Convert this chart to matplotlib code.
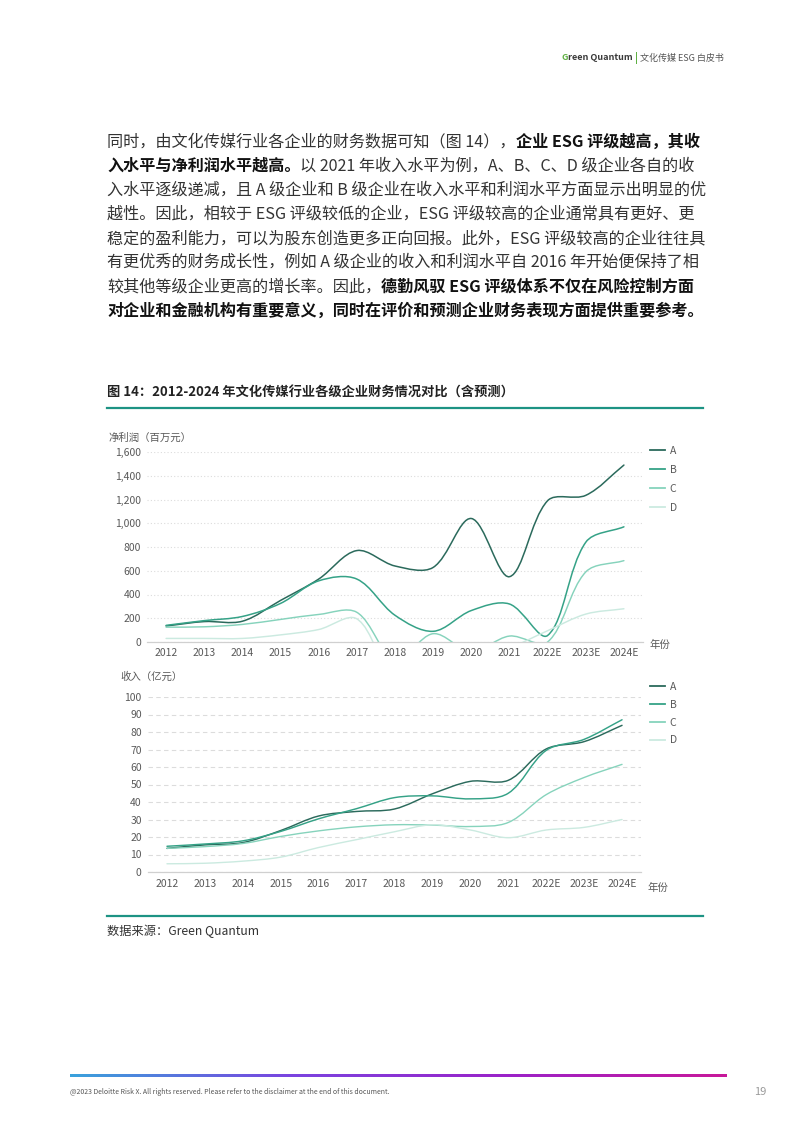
import numpy as np
import matplotlib
matplotlib.use("Agg")
import matplotlib.pyplot as plt
from matplotlib.path import Path
from matplotlib.patches import PathPatch
from matplotlib.lines import Line2D
from matplotlib.ticker import FuncFormatter
from matplotlib.colors import LinearSegmentedColormap

plt.rcParams['font.family'] = ['Noto Sans CJK SC', 'DejaVu Sans']

# ---------------- data ----------------
years = ['2012', '2013', '2014', '2015', '2016', '2017', '2018', '2019', '2020',
         '2021', '2022E', '2023E', '2024E']
series_names = ['A', 'B', 'C', 'D']

profit_A = [135, 172, 175, 350, 530, 770, 640, 628, 1040, 550, 1190, 1235, 1490]
profit_B = [140, 180, 215, 325, 515, 530, 225, 90, 265, 320, 55, 840, 970]
profit_C = [125, 128, 148, 190, 232, 250, -150, 70, -80, 50, 0, 590, 685]
profit_D = [30, 30, 30, 60, 105, 195, -300, -200, -150, -50, 95, 235, 280]

revenue_A = [13.5, 15.5, 16.8, 23.7, 32.0, 34.6, 36.0, 44.7, 51.8, 52.4, 70.3, 74.5, 83.8]
revenue_B = [14.7, 16.0, 17.8, 23.2, 30.4, 36.2, 42.5, 43.5, 41.8, 45.0, 69.5, 75.8, 87.0]
revenue_C = [13.5, 14.5, 16.3, 20.3, 23.5, 25.8, 27.0, 26.8, 26.0, 28.3, 44.2, 54.0, 61.5]
revenue_D = [4.7, 5.0, 6.2, 8.5, 14.0, 18.5, 23.0, 27.0, 24.0, 19.6, 24.0, 25.5, 30.0]

profit_ticks = [0, 200, 400, 600, 800, 1000, 1200, 1400, 1600]
revenue_ticks = [0, 10, 20, 30, 40, 50, 60, 70, 80, 90, 100]

colors = ['#2b6a5c', '#35a287', '#86d3bc', '#cbeae0']

W, H = 793, 1122
fig = plt.figure(figsize=(W / 100, H / 100), dpi=100)
fig.patch.set_facecolor('white')
renderer = fig.canvas.get_renderer()


def fx(px):
    return px / W


def fy(py):
    return 1 - py / H


def draw_runs(x_px, y_px, runs):
    x = x_px
    for text, kw in runs:
        t = fig.text(fx(x), fy(y_px), text, ha='left', va='center', **kw)
        bb = t.get_window_extent(renderer)
        x += bb.width
    return x


def smooth_path(xs, ys, sx, sy):
    """Office-style smoothed line (Bezier segments), computed in screen proportions."""
    pts = np.column_stack([np.asarray(xs, float) * sx, np.asarray(ys, float) * sy])
    n = len(pts)
    f = 1.0 / 6.0
    verts = [pts[0]]
    codes = [Path.MOVETO]

    def ctrl(pm, p, pp, toward_next):
        d0 = np.hypot(*(p - pm))
        d1 = np.hypot(*(pp - p))
        if d0 + d1 == 0:
            return p.copy()
        scale = 2 * (d1 if toward_next else d0) / (d0 + d1)
        v = (pp - pm) * f * scale
        return p + v if toward_next else p - v

    for i in range(n - 1):
        p1, p2 = pts[i], pts[i + 1]
        p0 = pts[i - 1] if i > 0 else pts[i]
        p3 = pts[i + 2] if i + 2 < n else pts[i + 1]
        c1 = ctrl(p0, p1, p2, True)
        c2 = ctrl(p1, p2, p3, False)
        verts += [c1, c2, p2]
        codes += [Path.CURVE4] * 3
    verts = np.array(verts)
    verts[:, 0] /= sx
    verts[:, 1] /= sy
    return Path(verts, codes)


TICK_C = '#595959'
GRID_C = '#dcdcdc'


def style_axes(ax, ticks, fmt, grid_ls, xpad):
    ax.set_xlim(-0.5, len(years) - 0.5)
    ax.set_ylim(ticks[0], ticks[-1])
    ax.set_xticks(range(len(years)))
    ax.set_xticklabels(years)
    ax.set_yticks(ticks)
    ax.yaxis.set_major_formatter(FuncFormatter(fmt))
    for s in ['top', 'right', 'left']:
        ax.spines[s].set_visible(False)
    ax.spines['bottom'].set_color('#d0d0d0')
    ax.spines['bottom'].set_linewidth(0.9)
    ax.yaxis.grid(True, linestyle=grid_ls, color=GRID_C, linewidth=0.8)
    ax.set_axisbelow(True)
    ax.tick_params(axis='both', length=0, labelsize=7.5, labelcolor=TICK_C)
    ax.tick_params(axis='x', pad=xpad)
    ax.tick_params(axis='y', pad=4.5)
    ax.set_facecolor('none')


def draw_series(ax, data, lws, w_px, h_px, yrange):
    sx = w_px / len(years)
    sy = h_px / yrange
    for vals, c, lw in zip(data, colors, lws):
        p = PathPatch(smooth_path(np.arange(len(years)), vals, sx, sy), facecolor='none',
                      edgecolor=c, linewidth=lw, capstyle='round', joinstyle='round')
        ax.add_patch(p)


def add_legend(ax, anchor, spacing):
    handles = [Line2D([0], [0], color=c, lw=1.3) for c in colors]
    leg = ax.legend(handles, series_names, loc='upper left', bbox_to_anchor=anchor,
                    frameon=False, fontsize=7.5, handlelength=1.45, handletextpad=0.45,
                    labelspacing=spacing, borderpad=0, borderaxespad=0)
    for t in leg.get_texts():
        t.set_color(TICK_C)


# ---------------- top chart: net profit ----------------
ax1 = fig.add_axes([fx(147), fy(642), fx(643) - fx(147), (642 - 452) / H])
style_axes(ax1, profit_ticks, lambda v, p: f'{int(v):,}', (0, (1, 2)), 4)
draw_series(ax1, [profit_A, profit_B, profit_C, profit_D], [1.1, 1.1, 1.05, 1.05],
            496, 190, 1600)
add_legend(ax1, ((650 - 147) / 496, (642 - 446) / 190), 0.85)
fig.text(fx(108), fy(438), '净利润（百万元）', ha='left', va='center', fontsize=7.5, color=TICK_C)
fig.text(fx(650), fy(645), '年份', ha='left', va='center', fontsize=7.5, color=TICK_C)

# ---------------- bottom chart: revenue ----------------
ax2 = fig.add_axes([fx(148), fy(872), fx(641) - fx(148), (872 - 697) / H])
style_axes(ax2, revenue_ticks, lambda v, p: f'{int(v)}', (0, (4, 3)), 5)
draw_series(ax2, [revenue_A, revenue_B, revenue_C, revenue_D], [1.05, 1.05, 1.0, 1.0],
            493, 175, 100)
add_legend(ax2, ((650 - 148) / 493, (872 - 682) / 175), 0.75)
fig.text(fx(120), fy(677), '收入（亿元）', ha='left', va='center', fontsize=7.5, color=TICK_C)
fig.text(fx(647), fy(888), '年份', ha='left', va='center', fontsize=7.5, color=TICK_C)

# ---------------- header ----------------
hdr_kw = dict(fontsize=6.5, color='#555555')
draw_runs(562, 58, [('G', dict(fontsize=6.5, color='#5fb043', fontweight='bold')),
                    ('reen Quantum', dict(fontsize=6.5, color='#3a3a3a', fontweight='bold')),
                    (' ', hdr_kw),
                    ('|', dict(fontsize=7.2, color='#5fb043', fontweight='bold')),
                    (' 文化传媒 ESG 白皮书', hdr_kw)])

# ---------------- body text ----------------
NORM = dict(fontsize=11.6, color='#333333')
BOLD = dict(fontsize=11.6, color='#111111', fontweight='bold')
body_lines = [
    [('同时，由文化传媒行业各企业的财务数据可知（图 14），', NORM), ('企业 ESG 评级越高，其收', BOLD)],
    [('入水平与净利润水平越高。', BOLD), ('以 2021 年收入水平为例，A、B、C、D 级企业各自的收', NORM)],
    [('入水平逐级递减，且 A 级企业和 B 级企业在收入水平和利润水平方面显示出明显的优', NORM)],
    [('越性。因此，相较于 ESG 评级较低的企业，ESG 评级较高的企业通常具有更好、更', NORM)],
    [('稳定的盈利能力，可以为股东创造更多正向回报。此外，ESG 评级较高的企业往往具', NORM)],
    [('有更优秀的财务成长性，例如 A 级企业的收入和利润水平自 2016 年开始便保持了相', NORM)],
    [('较其他等级企业更高的增长率。因此，', NORM), ('德勤风驭 ESG 评级体系不仅在风险控制方面', BOLD)],
    [('对企业和金融机构有重要意义，同时在评价和预测企业财务表现方面提供重要参考。', BOLD)],
]
for k, runs in enumerate(body_lines):
    draw_runs(107, 142 + 24.1 * k, runs)

# ---------------- caption & rules ----------------
fig.text(fx(107), fy(393), '图 14：2012-2024 年文化传媒行业各级企业财务情况对比（含预测）',
         ha='left', va='center', fontsize=9.5, fontweight='bold', color='#222222')
TEAL = '#1d9384'
fig.add_artist(Line2D([fx(107), fx(703)], [fy(408.5), fy(408.5)], color=TEAL, lw=1.6))
fig.add_artist(Line2D([fx(107), fx(703)], [fy(916), fy(916)], color=TEAL, lw=1.6))
fig.text(fx(107), fy(931), '数据来源：Green Quantum', ha='left', va='center',
         fontsize=8.8, color='#333333')

# ---------------- footer ----------------
axg = fig.add_axes([fx(70), fy(1077), fx(727) - fx(70), 3 / H])
cmap = LinearSegmentedColormap.from_list('ft', ['#3aa2dc', '#7a44e0', '#9b22c8', '#c8189a'])
axg.imshow(np.linspace(0, 1, 400)[None, :], aspect='auto', cmap=cmap)
axg.axis('off')
fig.text(fx(70), fy(1092), '@2023 Deloitte Risk X. All rights reserved. Please refer to the disclaimer at the end of this document.',
         ha='left', va='center', fontsize=5, color='#555555')
fig.text(fx(766), fy(1092), '19', ha='right', va='center', fontsize=8, color='#9a9a9a')

fig.savefig('out.png', dpi=100, facecolor='white')
